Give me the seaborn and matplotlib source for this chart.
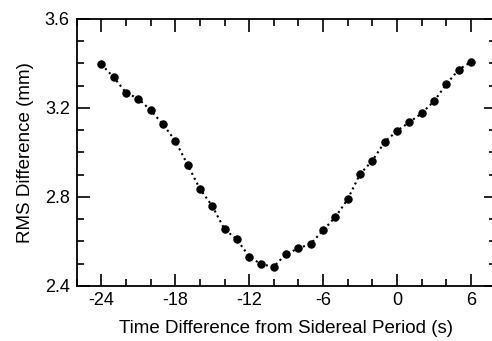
import numpy as np
import pandas as pd
import matplotlib
matplotlib.use("Agg")
import matplotlib.pyplot as plt
import seaborn as sns
from matplotlib.ticker import MultipleLocator, FormatStrFormatter

time_diff = list(range(-24, 7))
rms_diff = [3.396, 3.338, 3.269, 3.242, 3.190, 3.127, 3.053, 2.945, 2.837, 2.760,
            2.655, 2.610, 2.532, 2.497, 2.487, 2.544, 2.569, 2.590, 2.650, 2.710,
            2.790, 2.903, 2.963, 3.047, 3.097, 3.136, 3.176, 3.230, 3.306, 3.372, 3.407]
x_label = "Time Difference from Sidereal Period (s)"
y_label = "RMS Difference (mm)"

df = pd.DataFrame({"t": time_diff, "rms": rms_diff})

sns.set_theme(style="ticks")
plt.rcParams['font.family'] = ['Liberation Sans', 'DejaVu Sans']
plt.rcParams['axes.unicode_minus'] = False

fig = plt.figure(figsize=(4.92, 3.41), dpi=100)
ax = fig.add_axes([76.7 / 492, 55 / 341, (495.5 - 76.7) / 492, 267 / 341])

sns.lineplot(data=df, x="t", y="rms", ax=ax, color="black", linestyle=":",
             linewidth=1.5, marker="o", markersize=5.3, markeredgecolor="black",
             markerfacecolor="black")

ax.set_xlim(-26, 8)
ax.set_ylim(2.4, 3.6)
ax.xaxis.set_major_locator(MultipleLocator(6))
ax.xaxis.set_minor_locator(MultipleLocator(2))
ax.yaxis.set_major_locator(MultipleLocator(0.4))
ax.yaxis.set_minor_locator(MultipleLocator(0.1))
ax.yaxis.set_major_formatter(FormatStrFormatter("%.1f"))

ax.tick_params(which="both", direction="in", top=True, right=True, color="black",
               width=1.2, labelsize=13, labelcolor="black")
ax.tick_params(which="major", length=9)
ax.tick_params(which="minor", length=4.8)
ax.tick_params(axis="x", which="major", pad=4)
ax.tick_params(axis="y", which="major", pad=5)
for s in ax.spines.values():
    s.set_color("black")
    s.set_linewidth(1.3)

ax.set_xlabel(x_label, fontsize=13.5, color="black", labelpad=8)
ax.set_ylabel(y_label, fontsize=13.5, color="black", labelpad=8)

fig.savefig("out.png", dpi=100)
